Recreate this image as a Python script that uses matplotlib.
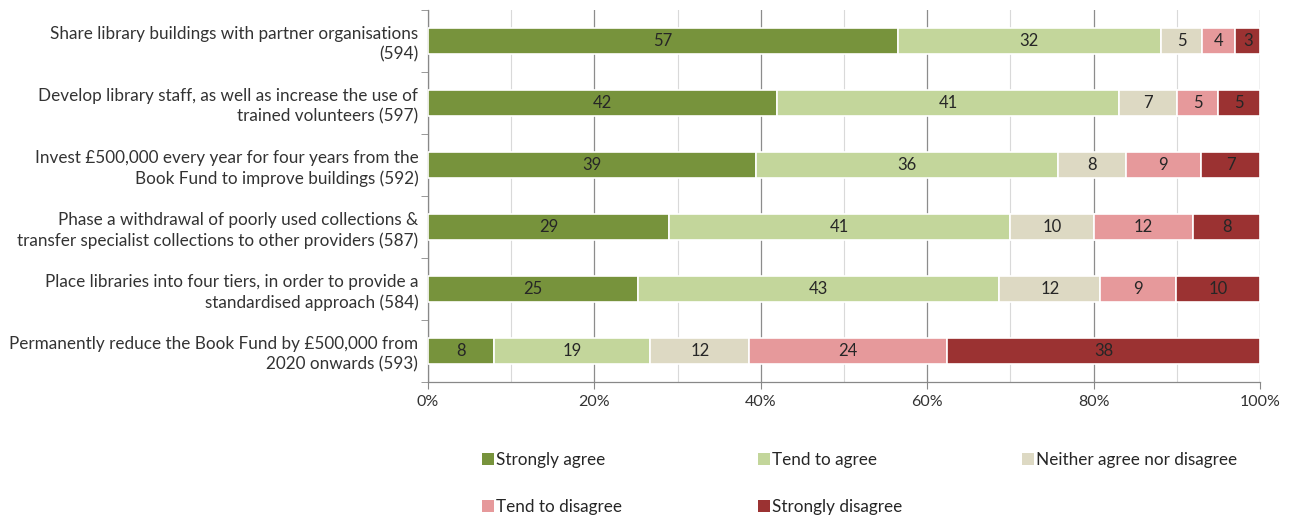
import matplotlib
matplotlib.use("Agg")
import matplotlib.pyplot as plt
import numpy as np
from matplotlib.patches import Patch
from matplotlib.ticker import MultipleLocator, FuncFormatter
from matplotlib.transforms import ScaledTranslation

plt.rcParams['font.family'] = ['Lato', 'DejaVu Sans']

categories = [
    "Share library buildings with partner organisations\n(594)",
    "Develop library staff, as well as increase the use of\ntrained volunteers (597)",
    "Invest £500,000 every year for four years from the\nBook Fund to improve buildings (592)",
    "Phase a withdrawal of poorly used collections &\ntransfer specialist collections to other providers (587)",
    "Place libraries into four tiers, in order to provide a\nstandardised approach (584)",
    "Permanently reduce the Book Fund by £500,000 from\n2020 onwards (593)",
]
series_names = ["Strongly agree", "Tend to agree", "Neither agree nor disagree",
                "Tend to disagree", "Strongly disagree"]
strongly_agree = [57, 42, 39, 29, 25, 8]
tend_agree = [32, 41, 36, 41, 43, 19]
neither = [5, 7, 8, 10, 12, 12]
tend_disagree = [4, 5, 9, 12, 9, 24]
strongly_disagree = [3, 5, 7, 8, 10, 38]
colors = ["#77933C", "#C3D69B", "#DDD9C3", "#E6999B", "#9B3232"]

data = np.array([strongly_agree, tend_agree, neither, tend_disagree, strongly_disagree], dtype=float)
shares = data / data.sum(axis=0)

fig = plt.figure(figsize=(12.96, 5.18), dpi=100)
ax = fig.add_axes([428/1296, 1-382/518, 832/1296, 372/518])

y = np.arange(len(categories))
left = np.zeros(len(categories))
for i, name in enumerate(series_names):
    ax.barh(y, shares[i], left=left, height=0.42, color=colors[i],
            edgecolor="white", linewidth=1.2, label=name, zorder=3)
    for j in range(len(categories)):
        ax.text(left[j] + shares[i][j] / 2, y[j], f"{int(data[i][j])}",
                ha="center", va="center", fontsize=12, color="#262626", zorder=4)
    left += shares[i]

ax.set_xlim(0, 1)
ax.set_ylim(len(categories) - 0.5, -0.5)
ax.set_yticks(y)
ax.set_yticklabels(categories, fontsize=12.3, color="#333333", linespacing=1.3)
offset = ScaledTranslation(0, 3/100, fig.dpi_scale_trans)
for lab in ax.get_yticklabels():
    lab.set_transform(lab.get_transform() + offset)
ax.set_yticks(np.arange(-0.5, len(categories), 1), minor=True)
ax.tick_params(axis="y", which="major", length=0, pad=7)
ax.tick_params(axis="y", which="minor", length=5, color="#888888", direction="out")
ax.xaxis.set_major_locator(MultipleLocator(0.2))
ax.xaxis.set_minor_locator(MultipleLocator(0.1))
ax.xaxis.set_major_formatter(FuncFormatter(lambda v, p: f"{int(round(v*100))}%"))
ax.tick_params(axis="x", which="major", labelsize=11.5, labelcolor="#333333",
               length=5, color="#888888", pad=4)
ax.tick_params(axis="x", which="minor", length=0)
ax.grid(axis="x", which="major", color="#8c8c8c", linewidth=0.9, zorder=0)
ax.grid(axis="x", which="minor", color="#d9d9d9", linewidth=0.8, zorder=0)
for s in ["top", "right"]:
    ax.spines[s].set_visible(False)
for s in ["left", "bottom"]:
    ax.spines[s].set_color("#888888")
    ax.spines[s].set_linewidth(0.9)

handles = [Patch(facecolor=c) for c in colors]
legend_columns = [[0, 3], [1, 4], [2]]
column_x = [475, 751, 1015]
for cols, xpx in zip(legend_columns, column_x):
    leg = fig.legend([handles[k] for k in cols], [series_names[k] for k in cols],
                     ncol=1, loc="upper left", bbox_to_anchor=(xpx/1296, 1-445/518),
                     frameon=False, fontsize=12.3, handlelength=0.7, handleheight=0.7,
                     handletextpad=0.15, labelspacing=1.85, borderaxespad=0,
                     labelcolor="#262626")

fig.savefig("out.png", dpi=100)
